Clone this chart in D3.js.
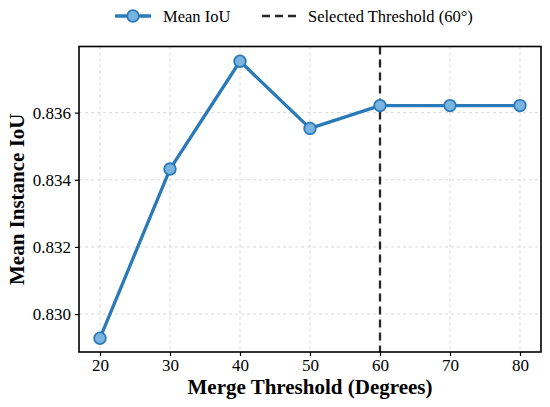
<!DOCTYPE html>
<html><head><meta charset="utf-8">
<script src="https://cdn.jsdelivr.net/npm/d3@7"></script>
<style>body{margin:0;background:#fff} svg text{font-family:'Liberation Serif','Times New Roman',serif;}</style>
</head><body>
<svg id="c" width="550" height="407"></svg>
<script>
const thresholds = [20, 30, 40, 50, 60, 70, 80];
const meanIoU = [0.82928, 0.83432, 0.83753, 0.83553, 0.83621, 0.83621, 0.83621];
const yTicks = [0.830, 0.832, 0.834, 0.836];
const selectedThreshold = 60;
const seriesLabel = "Mean IoU";
const selectedLabel = "Selected Threshold (60°)";
const xTitle = "Merge Threshold (Degrees)";
const yTitle = "Mean Instance IoU";

const svg = d3.select("#c");
const font = "'Liberation Serif','Times New Roman',serif";
const m = {l: 79, r: 541, t: 46.5, b: 352};
const x = d3.scaleLinear().domain([17, 83]).range([m.l, m.r]);
const y = d3.scaleLinear().domain([0.82887, 0.83797]).range([m.b, m.t]);
const lineCol = "#2a7ab9", fillCol = "#79b4e1";

// grid
const g = svg.append("g");
g.selectAll(".gx").data(thresholds).join("line")
  .attr("x1", d => x(d)).attr("x2", d => x(d)).attr("y1", m.t).attr("y2", m.b)
  .attr("stroke", "#d4d4d4").attr("stroke-width", 0.9).attr("stroke-dasharray", "3,3");
g.selectAll(".gy").data(yTicks).join("line")
  .attr("y1", d => y(d)).attr("y2", d => y(d)).attr("x1", m.l).attr("x2", m.r)
  .attr("stroke", "#d4d4d4").attr("stroke-width", 0.9).attr("stroke-dasharray", "3,3");

// selected threshold line
svg.append("line")
  .attr("x1", x(selectedThreshold)).attr("x2", x(selectedThreshold))
  .attr("y1", m.t).attr("y2", m.b)
  .attr("stroke", "#262626").attr("stroke-width", 2.3).attr("stroke-dasharray", "8,5");

// series line
svg.append("path").datum(thresholds.map((t, i) => [t, meanIoU[i]]))
  .attr("d", d3.line().x(d => x(d[0])).y(d => y(d[1])))
  .attr("fill", "none").attr("stroke", lineCol).attr("stroke-width", 3.3).attr("stroke-linejoin", "round");
svg.selectAll(".pt").data(thresholds.map((t, i) => [t, meanIoU[i]])).join("circle")
  .attr("cx", d => x(d[0])).attr("cy", d => y(d[1])).attr("r", 5.8)
  .attr("fill", fillCol).attr("stroke", lineCol).attr("stroke-width", 1.8);

// axes
const xAxis = svg.append("g").attr("transform", `translate(0,${m.b})`)
  .call(d3.axisBottom(x).tickValues(thresholds).tickSize(4).tickPadding(3).tickFormat(d3.format("d")));
const yAxis = svg.append("g").attr("transform", `translate(${m.l},0)`)
  .call(d3.axisLeft(y).tickValues(yTicks).tickSize(4).tickPadding(4).tickFormat(d3.format(".3f")));
[xAxis, yAxis].forEach(a => {
  a.attr("font-family", font).attr("font-size", 17);
  a.select(".domain").remove();
  a.selectAll("line").attr("stroke", "#000").attr("stroke-width", 1.2);
  a.selectAll("text").style("font-family", font).style("font-size", "17px").attr("fill", "#000");
});
// frame
svg.append("rect").attr("x", m.l).attr("y", m.t).attr("width", m.r - m.l).attr("height", m.b - m.t)
  .attr("fill", "none").attr("stroke", "#000").attr("stroke-width", 1.6);

// titles
svg.append("text").attr("x", (m.l + m.r) / 2).attr("y", 394).attr("text-anchor", "middle")
  .style("font-family", font).attr("font-weight", "bold").style("font-size", "21px").text(xTitle);
svg.append("text").attr("transform", `translate(24,${(m.t + m.b) / 2}) rotate(-90)`)
  .attr("text-anchor", "middle").style("font-family", font).attr("font-weight", "bold")
  .style("font-size", "21px").text(yTitle);

// legend
const ly = 16;
svg.append("line").attr("x1", 115).attr("x2", 151).attr("y1", ly).attr("y2", ly)
  .attr("stroke", lineCol).attr("stroke-width", 3.3);
svg.append("circle").attr("cx", 133).attr("cy", ly).attr("r", 5.8)
  .attr("fill", fillCol).attr("stroke", lineCol).attr("stroke-width", 1.8);
svg.append("text").attr("x", 163).attr("y", ly + 5.5).style("font-family", font).style("font-size", "16.5px").text(seriesLabel);
svg.append("line").attr("x1", 262).attr("x2", 296).attr("y1", ly).attr("y2", ly)
  .attr("stroke", "#262626").attr("stroke-width", 2.3).attr("stroke-dasharray", "8,5");
svg.append("text").attr("x", 308).attr("y", ly + 5.5).style("font-family", font).style("font-size", "16.5px").text(selectedLabel);
</script>
</body></html>
